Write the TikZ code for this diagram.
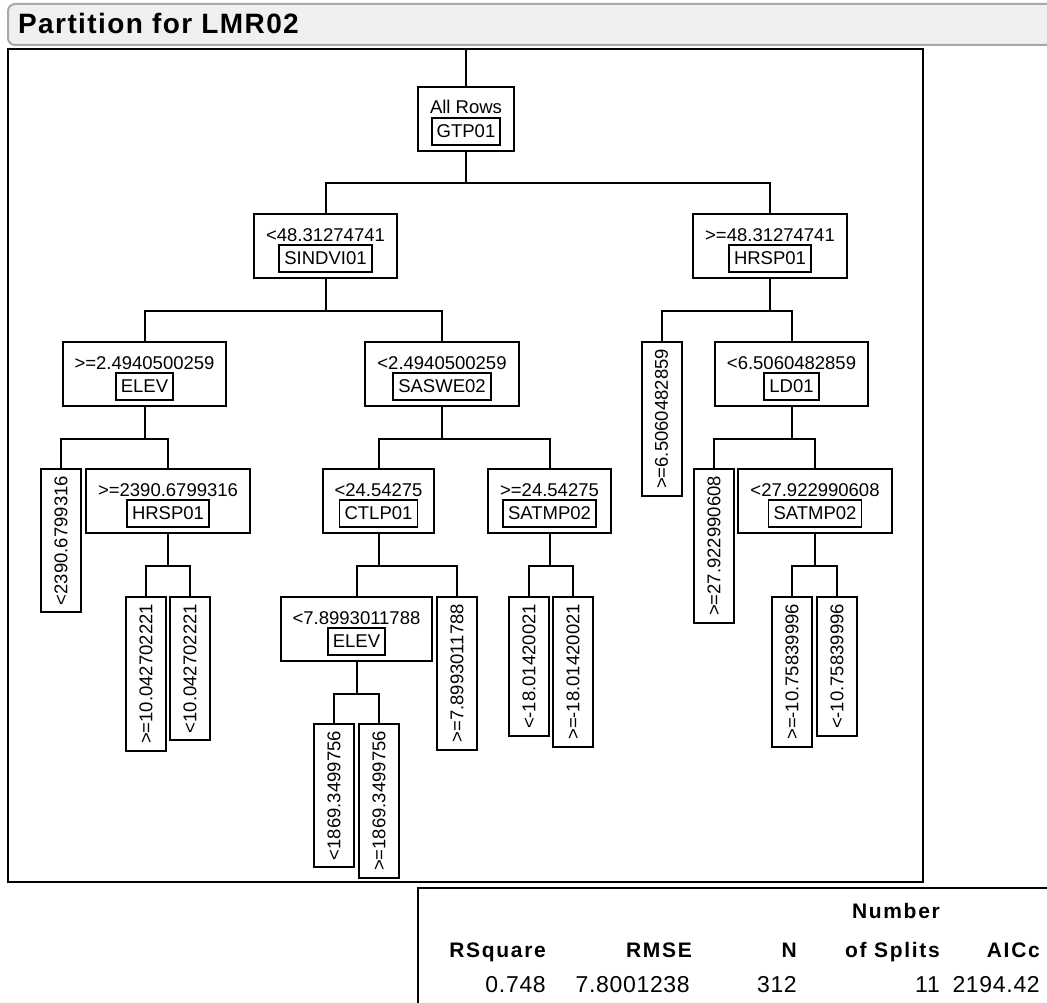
\documentclass[tikz,border=0pt]{standalone}
\usepackage{fontspec}
\setmainfont{Liberation Sans}
\usepackage{xcolor}
\definecolor{barfill}{HTML}{F0F0F0}
\definecolor{bardraw}{HTML}{A8A8A8}
\newcommand{\treefont}{\fontsize{18.5}{21}\selectfont}
\newcommand{\headfont}{\fontsize{21}{24}\selectfont\bfseries\addfontfeature{LetterSpace=8}}
\newcommand{\cellfont}{\fontsize{23}{26}\selectfont\addfontfeature{LetterSpace=3}}
\newcommand{\titlefont}{\fontsize{28}{31}\selectfont\bfseries\addfontfeature{LetterSpace=5}}
\tikzset{
  splitbox/.style={draw, line width=2pt, anchor=north, font=\treefont,
    inner xsep=12pt, inner ysep=0pt, text height=27pt, text depth=37pt},
  varbox/.style={draw, line width=1.8pt, anchor=south, font=\treefont,
    inner xsep=5pt, inner ysep=5pt, text height=14pt, text depth=3pt},
  leafbox/.style={draw, line width=2pt, anchor=east, rotate=90, font=\treefont,
    inner xsep=7pt, minimum height=40pt},
  elbow/.style={line width=2pt, to path={-- ++(0,31.5) -| (\tikztotarget)}},
  headcell/.style={anchor=base east, inner sep=0pt, font=\headfont},
  cell/.style={anchor=base east, inner sep=0pt, font=\cellfont}
}

\begin{document}
\begin{tikzpicture}[x=1pt, y=-1pt]
\useasboundingbox (0,0) rectangle (1047,1003);
% Title bar
\draw[bardraw, fill=barfill, line width=2pt, rounded corners=7pt] (8,4) rectangle (1062,45);
\node[anchor=base west, inner sep=0pt, font=\titlefont] (title) at (18,34) {Partition for LMR02};
% Frame
\draw[line width=2pt] (8,49) rectangle (923,882);

% Root
\coordinate (top) at (466,49);
\node[splitbox] (root) at (466,86) {All Rows};
\node[varbox] (rootvar) at ([yshift=6pt]root.south) {GTP01};
\draw[line width=2pt] (top) -- (root.north);

% Left branch
\node[splitbox] (sindvi) at (325.5,213) {<48.31274741};
\node[varbox] (sindvivar) at ([yshift=6pt]sindvi.south) {SINDVI01};
\node[splitbox] (elev) at (144.5,341) {>=2.4940500259};
\node[varbox] (elevvar) at ([yshift=6pt]elev.south) {ELEV};
\node[splitbox] (saswe) at (442,341) {<2.4940500259};
\node[varbox] (saswevar) at ([yshift=6pt]saswe.south) {SASWE02};
\node[leafbox] (elevlo) at (61,468) {<2390.6799316};
\node[splitbox] (hrspb) at (168,468) {>=2390.6799316};
\node[varbox] (hrspbvar) at ([yshift=6pt]hrspb.south) {HRSP01};
\node[leafbox] (hrspbhi) at (146,596) {>=10.042702221};
\node[leafbox] (hrspblo) at (190,596) {<10.042702221};
\node[splitbox] (ctlp) at (378.5,468) {<24.54275};
\node[varbox] (ctlpvar) at ([yshift=6pt]ctlp.south) {CTLP01};
\node[splitbox] (satmp) at (549.5,468) {>=24.54275};
\node[varbox] (satmpvar) at ([yshift=6pt]satmp.south) {SATMP02};
\node[splitbox] (elevb) at (356.5,596) {<7.8993011788};
\node[varbox] (elevbvar) at ([yshift=6pt]elevb.south) {ELEV};
\node[leafbox] (ctlphi) at (457,596) {>=7.8993011788};
\node[leafbox] (elevblo) at (334,723) {<1869.3499756};
\node[leafbox] (elevbhi) at (379,723) {>=1869.3499756};
\node[leafbox] (satmplo) at (529,596) {<-18.01420021};
\node[leafbox] (satmphi) at (573,596) {>=-18.01420021};

% Right branch
\node[splitbox] (hrsp) at (770,213) {>=48.31274741};
\node[varbox] (hrspvar) at ([yshift=6pt]hrsp.south) {HRSP01};
\node[leafbox] (hrsphi) at (661.5,341) {>=6.5060482859};
\node[splitbox] (ld) at (791.5,341) {<6.5060482859};
\node[varbox] (ldvar) at ([yshift=6pt]ld.south) {LD01};
\node[leafbox] (ldhi) at (714,468) {>=27.922990608};
\node[splitbox] (satmpb) at (815,468) {<27.922990608};
\node[varbox] (satmpbvar) at ([yshift=6pt]satmpb.south) {SATMP02};
\node[leafbox] (satmpbhi) at (792,596) {>=-10.75839996};
\node[leafbox] (satmpblo) at (837,596) {<-10.75839996};

% Splits
\draw[elbow] (root.south) to (sindvi) (root.south) to (hrsp);
\draw[elbow] (sindvi.south) to (elev) (sindvi.south) to (saswe);
\draw[elbow] (elev.south) to (elevlo) (elev.south) to (hrspb);
\draw[elbow] (hrspb.south) to (hrspbhi) (hrspb.south) to (hrspblo);
\draw[elbow] (saswe.south) to (ctlp) (saswe.south) to (satmp);
\draw[elbow] (ctlp.south) to (elevb) (ctlp.south) to (ctlphi);
\draw[elbow] (elevb.south) to (elevblo) (elevb.south) to (elevbhi);
\draw[elbow] (satmp.south) to (satmplo) (satmp.south) to (satmphi);
\draw[elbow] (hrsp.south) to (hrsphi) (hrsp.south) to (ld);
\draw[elbow] (ld.south) to (ldhi) (ld.south) to (satmpb);
\draw[elbow] (satmpb.south) to (satmpbhi) (satmpb.south) to (satmpblo);

% Fit summary
\draw[line width=2pt] (1062,888) -| (418,1010);
\node[headcell] (hnum) at (940,918) {Number};
\node[headcell] (hrsq) at (546,957) {RSquare};
\node[headcell] (hrmse) at (692,957) {RMSE};
\node[headcell] (hn) at (797,957) {N};
\node[headcell] (hsplit) at (940,957) {of Splits};
\node[headcell] (haicc) at (1040,957) {AICc};
\node[cell] (vrsq) at (546,992) {0.748};
\node[cell] (vrmse) at (690,992) {7.8001238};
\node[cell] (vn) at (797,992) {312};
\node[cell] (vsplit) at (940,992) {11};
\node[cell] (vaicc) at (1040,992) {2194.42};
\end{tikzpicture}
\end{document}
